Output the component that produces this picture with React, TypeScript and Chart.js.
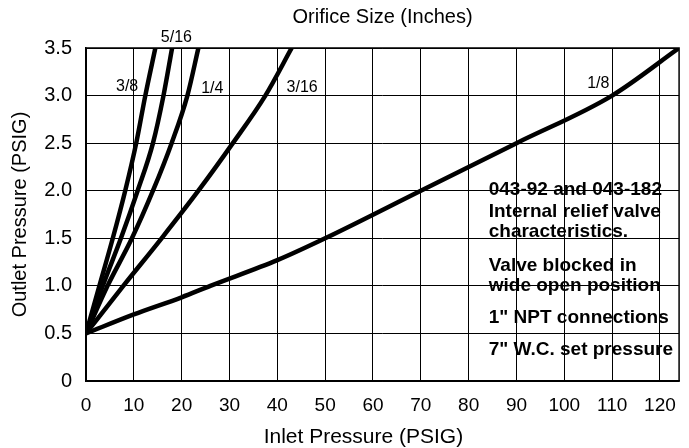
import React, { useEffect, useRef } from 'react';
import { Chart, registerables } from 'chart.js';
Chart.register(...registerables);

// Orifice size series (inlet PSIG -> outlet PSIG)
const seriesNames = ['3/8', '5/16', '1/4', '3/16', '1/8'];
const inlet38 = [0, 2.8, 5.6, 8.2, 10.5, 12.4, 14.5];
const outlet38 = [0.5, 1.0, 1.5, 2.0, 2.5, 3.0, 3.5];
const inlet516 = [0, 3.5, 7.3, 10.8, 14.0, 16.2, 18.0];
const outlet516 = [0.5, 1.0, 1.5, 2.0, 2.5, 3.0, 3.5];
const inlet14 = [0, 4.5, 9.6, 14.0, 17.9, 21.2, 23.5];
const outlet14 = [0.5, 1.0, 1.5, 2.0, 2.5, 3.0, 3.5];
const inlet316 = [0, 7.8, 15.8, 23.5, 30.7, 37.5, 43.0];
const outlet316 = [0.5, 1.0, 1.5, 2.0, 2.5, 3.0, 3.5];
const inlet18 = [0, 10, 20, 26, 40, 50, 70, 90, 110, 124];
const outlet18 = [0.5, 0.7, 0.88, 1.0, 1.27, 1.5, 2.0, 2.5, 3.0, 3.5];

// Curve label anchors (data coordinates)
const labelX = [8.6, 18.9, 26.4, 45.2, 107.1];
const labelY = [3.09, 3.61, 3.07, 3.08, 3.13];

// Notes block
const noteLines = [
  '043-92 and 043-182',
  'Internal relief valve',
  'characteristics.',
  'Valve blocked in',
  'wide open position',
  '1" NPT connections',
  '7" W.C. set pressure',
];
const noteX = 84.2;
const noteY = [2.01, 1.78, 1.57, 1.21, 1.0, 0.66, 0.33];

const topTitle = 'Orifice Size (Inches)';
const xTitle = 'Inlet Pressure (PSIG)';
const yTitle = 'Outlet Pressure (PSIG)';

const FONT = '"Liberation Sans", Arial, sans-serif';

const toPoints = (xs: number[], ys: number[]) => xs.map((x, i) => ({ x, y: ys[i] }));

export default function App() {
  const ref = useRef<HTMLCanvasElement>(null);

  useEffect(() => {
    if (!ref.current) return;
    const pairs = [
      [inlet38, outlet38],
      [inlet516, outlet516],
      [inlet14, outlet14],
      [inlet316, outlet316],
      [inlet18, outlet18],
    ];

    const textPlugin = {
      id: 'texts',
      beforeDatasetsDraw(chart: any) {
        const { ctx, chartArea } = chart;
        ctx.save();
        ctx.strokeStyle = '#000';
        ctx.lineWidth = 1.5;
        ctx.strokeRect(chartArea.left, chartArea.top, chartArea.right - chartArea.left, chartArea.bottom - chartArea.top);
        ctx.restore();
      },
      afterDraw(chart: any) {
        const { ctx, chartArea, scales } = chart;
        const xs = scales.x;
        const ys = scales.y;
        ctx.save();
        ctx.fillStyle = '#000';
        // top title
        ctx.font = `20px ${FONT}`;
        ctx.textAlign = 'center';
        ctx.textBaseline = 'middle';
        ctx.fillText(topTitle, (chartArea.left + chartArea.right) / 2, 17);
        // x title
        ctx.font = `21px ${FONT}`;
        ctx.fillText(xTitle, xs.getPixelForValue(58), 437);
        // curve labels
        ctx.font = `16px ${FONT}`;
        seriesNames.forEach((n, i) => {
          ctx.fillText(n, xs.getPixelForValue(labelX[i]), ys.getPixelForValue(labelY[i]));
        });
        // notes
        ctx.font = `bold 19px ${FONT}`;
        ctx.textAlign = 'left';
        noteLines.forEach((t, i) => {
          ctx.fillText(t, xs.getPixelForValue(noteX), ys.getPixelForValue(noteY[i]));
        });
        ctx.restore();
      },
    };

    const chart = new Chart(ref.current, {
      type: 'line',
      data: {
        datasets: seriesNames.map((name, i) => ({
          label: name,
          data: toPoints(pairs[i][0], pairs[i][1]),
          borderColor: '#000',
          backgroundColor: '#000',
          borderWidth: 4.5,
          pointRadius: 0,
          cubicInterpolationMode: 'monotone' as const,
          fill: false,
        })),
      },
      options: {
        responsive: false,
        animation: false,
        layout: { padding: { top: 48, right: 6, left: 0, bottom: 0 } },
        plugins: {
          legend: { display: false },
          tooltip: { enabled: false },
          title: { display: false },
        },
        scales: {
          x: {
            type: 'linear',
            min: 0,
            max: 124,
            afterFit: (s: any) => { s.height = 67; },
            ticks: {
              stepSize: 10,
              includeBounds: false,
              color: '#000',
              font: { family: FONT, size: 19 },
              padding: 13,
              maxRotation: 0,
            },
            grid: { color: '#000', lineWidth: 1, drawTicks: false },
            border: { color: '#000', width: 1.5 },
          },
          y: {
            type: 'linear',
            min: 0,
            max: 3.5,
            afterFit: (s: any) => { s.width = 86; },
            ticks: {
              stepSize: 0.5,
              color: '#000',
              font: { family: FONT, size: 20 },
              padding: 14,
              callback: (v: any) => (Number(v) === 0 ? '0' : Number(v).toFixed(1)),
            },
            grid: { color: '#000', lineWidth: 1, drawTicks: false },
            border: { color: '#000', width: 1.5 },
            title: {
              display: true,
              text: yTitle,
              color: '#000',
              font: { family: FONT, size: 20 },
              padding: { top: 8, bottom: 0 },
            },
          },
        },
      },
      plugins: [textPlugin],
    } as any);
    return () => chart.destroy();
  }, []);

  return (
    <div style={{ position: 'absolute', left: 0, top: 0, width: 689, height: 448, background: '#fff' }}>
      <canvas ref={ref} width={689} height={448} style={{ display: 'block' }} />
    </div>
  );
}
